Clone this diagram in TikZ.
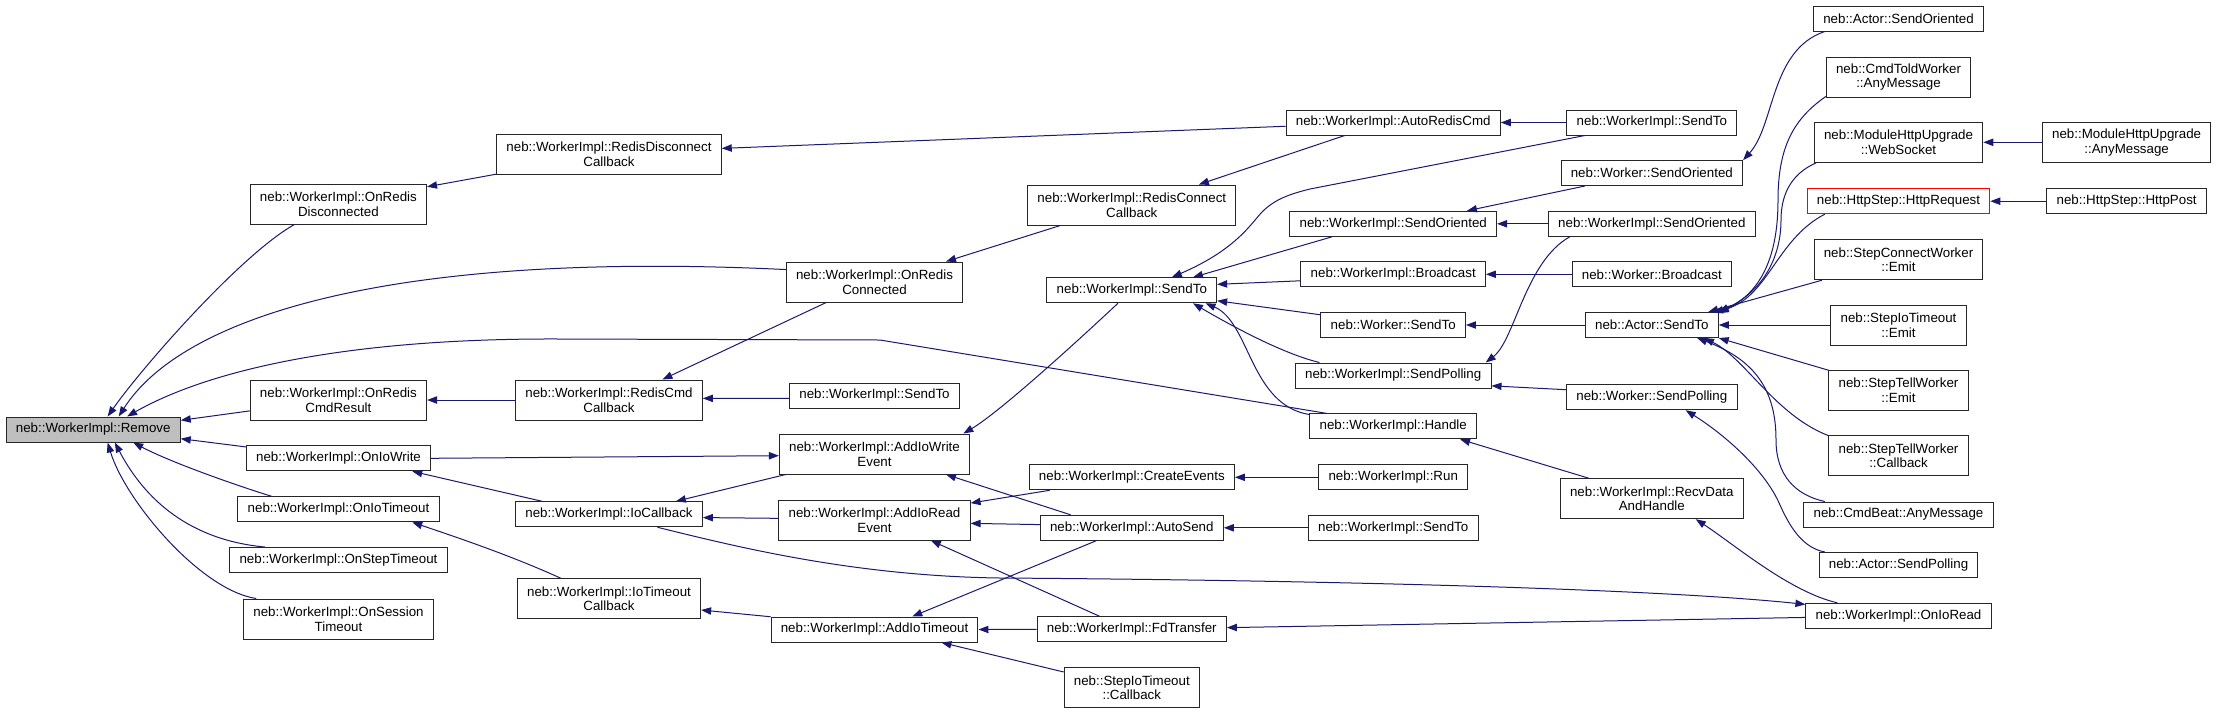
\documentclass[tikz,border=0pt]{standalone}
\usepackage{fontspec}
\setmainfont{Liberation Sans}
\usetikzlibrary{arrows.meta}
\definecolor{edgeblue}{HTML}{191970}
\definecolor{nodegray}{HTML}{BFBFBF}
\definecolor{nodered}{HTML}{FF0000}
\begin{document}
\begin{tikzpicture}[x=0.75pt, y=-0.75pt,
    func/.style={draw=black!85, line width=0.75pt, fill=white, inner xsep=7.3pt, inner ysep=0pt,
        minimum height=18.75pt, align=center, font=\fontsize{10}{10.9}\selectfont},
    functwo/.style={func, minimum height=30pt},
    current/.style={func, fill=nodegray},
    redbox/.style={func, draw=nodered},
    callarrow/.style={draw=edgeblue, line width=0.75pt, {Triangle[length=7.5pt,width=5.5pt]}-}]
        \useasboundingbox (0,0) rectangle (2216,715);

        \node[current] (remove) at (93.2,429.5) {neb::WorkerImpl::Remove};

        \node[functwo] (ordisc) at (338.4,204) {neb::WorkerImpl::OnRedis\\Disconnected};
        \node[functwo] (orcmd) at (338.4,400) {neb::WorkerImpl::OnRedis\\CmdResult};
        \node[func] (oiow) at (338.5,458.3) {neb::WorkerImpl::OnIoWrite};
        \node[func] (oiot) at (338.5,509.3) {neb::WorkerImpl::OnIoTimeout};
        \node[func] (ostep) at (338.5,560) {neb::WorkerImpl::OnStepTimeout};
        \node[functwo] (osess) at (338.5,619) {neb::WorkerImpl::OnSession\\Timeout};

        \node[functwo] (rdcb) at (609,154.3) {neb::WorkerImpl::RedisDisconnect\\Callback};
        \node[functwo] (rccb) at (609,400) {neb::WorkerImpl::RedisCmd\\Callback};
        \node[func] (iocb) at (609,514.3) {neb::WorkerImpl::IoCallback};
        \node[functwo] (iotcb) at (609,598.7) {neb::WorkerImpl::IoTimeout\\Callback};

        \node[functwo] (orconn) at (874.5,282) {neb::WorkerImpl::OnRedis\\Connected};
        \node[func] (sendtoA) at (874.5,395.5) {neb::WorkerImpl::SendTo};
        \node[functwo] (aiow) at (874.5,454) {neb::WorkerImpl::AddIoWrite\\Event};
        \node[functwo] (aior) at (874.5,520) {neb::WorkerImpl::AddIoRead\\Event};
        \node[func] (aiot) at (874.5,629.5) {neb::WorkerImpl::AddIoTimeout};

        \node[functwo] (rccb2) at (1131.8,205) {neb::WorkerImpl::RedisConnect\\Callback};
        \node[func] (sendtoB) at (1131.8,290.3) {neb::WorkerImpl::SendTo};
        \node[func] (cev) at (1131.8,477.3) {neb::WorkerImpl::CreateEvents};
        \node[func] (autosend) at (1131.8,527.8) {neb::WorkerImpl::AutoSend};
        \node[func] (fdt) at (1131.8,629.3) {neb::WorkerImpl::FdTransfer};
        \node[functwo] (siotcb) at (1131.8,687.7) {neb::StepIoTimeout\\::Callback};

        \node[func] (arc) at (1393.2,122.5) {neb::WorkerImpl::AutoRedisCmd};
        \node[func] (sorA) at (1393.2,223.8) {neb::WorkerImpl::SendOriented};
        \node[func] (bcast) at (1393.2,274.3) {neb::WorkerImpl::Broadcast};
        \node[func] (wsendto) at (1393.2,325) {neb::Worker::SendTo};
        \node[func] (spoll) at (1393.2,375.5) {neb::WorkerImpl::SendPolling};
        \node[func] (handle) at (1393.2,426.3) {neb::WorkerImpl::Handle};
        \node[func] (run) at (1393.2,477.3) {neb::WorkerImpl::Run};
        \node[func] (sendtoD) at (1393.2,527.8) {neb::WorkerImpl::SendTo};

        \node[func] (sendtoC) at (1651.8,122.5) {neb::WorkerImpl::SendTo};
        \node[func] (wsor) at (1651.8,173) {neb::Worker::SendOriented};
        \node[func] (sorB) at (1651.8,223.8) {neb::WorkerImpl::SendOriented};
        \node[func] (wbcast) at (1651.8,274.3) {neb::Worker::Broadcast};
        \node[func] (asendto) at (1651.8,325) {neb::Actor::SendTo};
        \node[func] (wspoll) at (1651.8,397.2) {neb::Worker::SendPolling};
        \node[functwo] (recv) at (1651.8,498.7) {neb::WorkerImpl::RecvData\\AndHandle};

        \node[func] (asor) at (1898.5,18.5) {neb::Actor::SendOriented};
        \node[functwo] (ctw) at (1898.5,77) {neb::CmdToldWorker\\::AnyMessage};
        \node[functwo] (ws) at (1898.5,142.3) {neb::ModuleHttpUpgrade\\::WebSocket};
        \node[redbox] (httpreq) at (1898.5,201.2) {neb::HttpStep::HttpRequest};
        \node[functwo] (sce) at (1898.5,259.7) {neb::StepConnectWorker\\::Emit};
        \node[functwo] (sioe) at (1898.5,325) {neb::StepIoTimeout\\::Emit};
        \node[functwo] (stwe) at (1898.5,390.3) {neb::StepTellWorker\\::Emit};
        \node[functwo] (stwc) at (1898.5,455.7) {neb::StepTellWorker\\::Callback};
        \node[func] (cbam) at (1898.5,514.5) {neb::CmdBeat::AnyMessage};
        \node[func] (aspoll) at (1898.5,565) {neb::Actor::SendPolling};
        \node[func] (oior) at (1898.5,615.8) {neb::WorkerImpl::OnIoRead};

        \node[functwo] (mham) at (2126.6,142.3) {neb::ModuleHttpUpgrade\\::AnyMessage};
        \node[func] (httppost) at (2126.6,201.2) {neb::HttpStep::HttpPost};

        \draw[callarrow] (remove.42) .. controls (140,370) and (240,255) .. (ordisc.205);
        \draw[callarrow] (remove.27) .. controls (180,320) and (380,250) .. (orconn.172);
        \draw[callarrow] (remove.21) .. controls (200,375) and (330,338) .. (560,339) -- (880,340) -- (handle.169);
        \draw[callarrow] (remove.6) -- (orcmd.187);
        \draw[callarrow] (remove.354) -- (oiow.173);
        \draw[callarrow] (remove.342) .. controls (170,462) and (235,485) .. (oiot.169);
        \draw[callarrow] (remove.329) .. controls (145,500) and (190,540) .. (ostep.170);
        \draw[callarrow] (remove.318) .. controls (125,500) and (200,590) .. (osess.166);

        \draw[callarrow] (ordisc.11) -- (rdcb.190);
        \draw[callarrow] (rdcb.3) -- (arc.182);
        \draw[callarrow] (orcmd.east) -- (rccb.west);
        \draw[callarrow] (rccb.21) -- (orconn.203);
        \draw[callarrow] (rccb.1) -- (sendtoA.182);
        \draw[callarrow] (orconn.16) -- (rccb2.196);
        \draw[callarrow] (rccb2.17) -- (arc.195);
        \draw[callarrow] (arc.east) -- (sendtoC.west);

        \draw[callarrow] (sendtoB.18) .. controls (1235,250) and (1250,225) .. (1262,212)
            .. controls (1275,199) and (1290,194) .. (1310,189) -- (sendtoC.191);
        \draw[callarrow] (sendtoB.12) -- (sorA.192);
        \draw[callarrow] (sendtoB.4) -- (bcast.184);
        \draw[callarrow] (sendtoB.353) -- (wsendto.172);
        \draw[callarrow] (sendtoB.348) .. controls (1225,322) and (1280,353) .. (spoll.170);
        \draw[callarrow] (sendtoB.350) .. controls (1250,322) and (1250,405) .. (handle.172);
        \draw[callarrow] (aiow.13) .. controls (1000,412) and (1082,337) .. (sendtoB.223);
        \draw[callarrow] (aiow.181) -- (oiow.east);

        \draw[callarrow] (iocb.11) -- (aiow.193);
        \draw[callarrow] (iocb.358) -- (aior.179);
        \draw[callarrow] (oiow.350) -- (iocb.169);
        \draw[callarrow] (oiot.350) .. controls (450,535) and (510,555) .. (iotcb.157);
        \draw[callarrow] (iotcb.353) -- (aiot.173);
        \draw[callarrow] (oior.173) .. controls (1650,588) and (1300,580) .. (1000,578)
            .. controls (850,576) and (730,545) .. (iocb.345);

        \draw[callarrow] (aior.10) -- (cev.189);
        \draw[callarrow] (aior.358) -- (autosend.178);
        \draw[callarrow] (aior.340) -- (fdt.158);
        \draw[callarrow] (aiow.344) -- (autosend.168);
        \draw[callarrow] (aiot.19) -- (autosend.200);
        \draw[callarrow] (aiot.east) -- (fdt.west);
        \draw[callarrow] (aiot.349) -- (siotcb.167);
        \draw[callarrow] (cev.east) -- (run.west);
        \draw[callarrow] (autosend.east) -- (sendtoD.west);
        \draw[callarrow] (fdt.1) -- (oior.181);

        \draw[callarrow] (sorA.10) -- (wsor.191);
        \draw[callarrow] (sorA.east) -- (sorB.west);
        \draw[callarrow] (bcast.east) -- (wbcast.west);
        \draw[callarrow] (wsendto.east) -- (asendto.west);
        \draw[callarrow] (spoll.8) .. controls (1515,340) and (1525,262) .. (sorB.189);
        \draw[callarrow] (spoll.354) -- (wspoll.175);
        \draw[callarrow] (handle.349) -- (recv.162);
        \draw[callarrow] (recv.335) .. controls (1735,545) and (1790,592) .. (oior.168);

        \draw[callarrow] (wsor.8) .. controls (1775,125) and (1770,50) .. (asor.190);
        \draw[callarrow] (asendto.10) .. controls (1765,290) and (1778,250) .. (1778,200)
            .. controls (1778,145) and (1795,118) .. (ctw.195);
        \draw[callarrow] (asendto.11) .. controls (1765,290) and (1781,255) .. (1781,220)
            .. controls (1781,190) and (1795,172) .. (ws.194);
        \draw[callarrow] (asendto.12) .. controls (1768,300) and (1775,240) .. (httpreq.190);
        \draw[callarrow] (asendto.13) -- (sce.195);
        \draw[callarrow] (asendto.east) -- (sioe.west);
        \draw[callarrow] (asendto.349) -- (stwe.164);
        \draw[callarrow] (asendto.346) .. controls (1745,358) and (1775,415) .. (stwc.164);
        \draw[callarrow] (asendto.344) .. controls (1755,360) and (1776,390) .. (1776,440)
            .. controls (1776,475) and (1795,495) .. (cbam.170);
        \draw[callarrow] (wspoll.339) .. controls (1725,435) and (1765,470) .. (1780,505)
            .. controls (1792,532) and (1805,548) .. (aspoll.170);
        \draw[callarrow] (ws.east) -- (mham.west);
        \draw[callarrow] (httpreq.east) -- (httppost.west);
\end{tikzpicture}
\end{document}
